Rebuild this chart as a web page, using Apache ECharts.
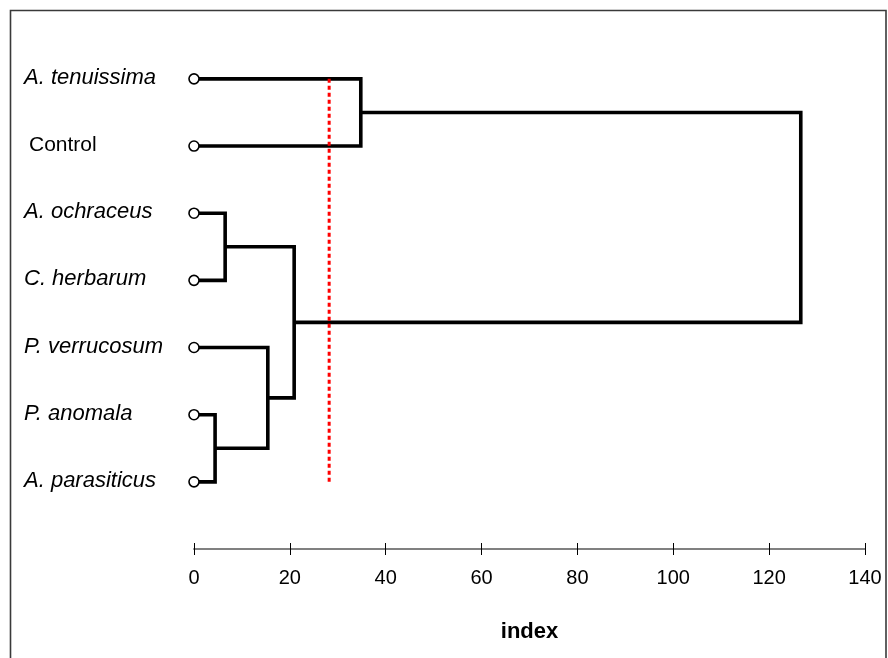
<!DOCTYPE html>
<html>
<head>
<meta charset="utf-8">
<script src="https://cdn.jsdelivr.net/npm/echarts@6/dist/echarts.min.js"></script>
<style>
html,body{margin:0;padding:0;background:#fff;}
#chart{width:888px;height:658px;}
</style>
</head>
<body>
<div id="chart"></div>
<script>
// ---- data ----
const leafNames = ['A. tenuissima', 'Control', 'A. ochraceus', 'C. herbarum', 'P. verrucosum', 'P. anomala', 'A. parasiticus'];
const italicLeaf = [true, false, true, true, true, true, true];
// merges (index >= 7 refers to a previous merge result, like a linkage table)
const mergeA = [5, 2, 4, 8, 0, 11];
const mergeB = [6, 3, 7, 9, 1, 10];
const mergeHeight = [4.4, 6.5, 15.4, 20.9, 34.8, 126.6];
const cutoffValue = 28.2;
const xMin = 0, xMax = 140, xStep = 20;

// ---- build node positions from the tree ----
const n = leafNames.length;
const nodeX = [], nodeY = [];
for (let i = 0; i < n; i++) { nodeX.push(0); nodeY.push(i); }
const linkData = [];
for (let k = 0; k < mergeA.length; k++) {
  const a = mergeA[k], b = mergeB[k], h = mergeHeight[k];
  linkData.push([nodeX[a], nodeY[a], h, nodeY[b], nodeX[b]]);
  nodeX.push(h);
  nodeY.push((nodeY[a] + nodeY[b]) / 2);
}
const leafPoints = leafNames.map((_, i) => [0, i]);

const chart = echarts.init(document.getElementById('chart'), null, {renderer: 'canvas'});
const font = '"Liberation Sans", Arial, sans-serif';

const option = {
  backgroundColor: '#fff',
  animation: false,
  grid: {left: 194, right: 23, top: 11.7, bottom: 109, containLabel: false},
  graphic: [{
    type: 'rect',
    shape: {x: 10.5, y: 10.5, width: 875.5, height: 700},
    style: {fill: 'none', stroke: '#3a3a3a', lineWidth: 1.6},
    silent: true, z: -1
  }],
  xAxis: [{
    type: 'value', min: xMin, max: xMax, interval: xStep, position: 'bottom',
    name: 'index', nameLocation: 'middle', nameGap: 72,
    nameTextStyle: {fontFamily: font, fontSize: 22, fontWeight: 'bold', color: '#000'},
    axisLine: {show: true, onZero: false, lineStyle: {color: '#808080', width: 2}},
    axisTick: {show: true, length: 6, lineStyle: {color: '#000', width: 1}},
    axisLabel: {fontFamily: font, fontSize: 20, color: '#000', margin: 19},
    splitLine: {show: false}
  }, {
    type: 'value', min: xMin, max: xMax, interval: xStep, position: 'bottom', offset: 0,
    axisLine: {show: false, onZero: false},
    axisTick: {show: true, inside: true, length: 6, lineStyle: {color: '#000', width: 1}},
    axisLabel: {show: false},
    splitLine: {show: false}
  }],
  yAxis: {
    type: 'value', min: -1, max: 7, interval: 1, inverse: true,
    axisLine: {show: false}, axisTick: {show: false}, splitLine: {show: false},
    axisLabel: {
      show: true, align: 'left', margin: 170,
      formatter: function (v) {
        const i = Math.round(v);
        if (i < 0 || i >= n || Math.abs(v - i) > 1e-6) return '';
        return italicLeaf[i] ? '{i|' + leafNames[i] + '}' : '{r|' + leafNames[i] + '}';
      },
      rich: {
        i: {fontFamily: font, fontSize: 22, fontStyle: 'italic', color: '#000', padding: [0, 0, 2, 0]},
        r: {fontFamily: font, fontSize: 21, color: '#000', padding: [0, 0, 2, 5]}
      }
    }
  },
  series: [{
    type: 'custom',
    xAxisIndex: 0,
    data: linkData,
    z: 2,
    renderItem: function (params, api) {
      const xa = api.value(0), ya = api.value(1), h = api.value(2), yb = api.value(3), xb = api.value(4);
      const pts = [api.coord([xa, ya]), api.coord([h, ya]), api.coord([h, yb]), api.coord([xb, yb])];
      return {type: 'polyline', shape: {points: pts}, style: {stroke: '#000', lineWidth: 3.6, fill: null, lineJoin: 'miter'}};
    }
  }, {
    type: 'line',
    xAxisIndex: 0,
    data: [[cutoffValue, 0], [cutoffValue, 6.03]],
    symbol: 'none',
    lineStyle: {color: '#ff0000', width: 3, type: [4, 3]},
    z: 3
  }, {
    type: 'scatter',
    xAxisIndex: 0,
    data: leafPoints,
    symbol: 'circle', symbolSize: 10,
    itemStyle: {color: '#fff', borderColor: '#000', borderWidth: 1.6, opacity: 1},
    z: 4
  }]
};
chart.setOption(option);
</script>
</body>
</html>
